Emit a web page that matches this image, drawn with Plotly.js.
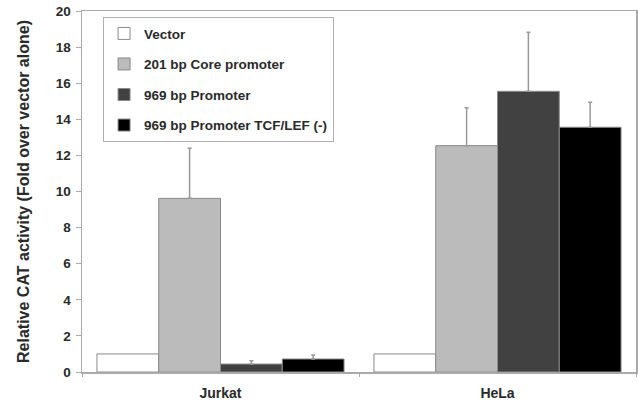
<!DOCTYPE html>
<html>
<head>
<meta charset="utf-8">
<script src="https://cdn.plot.ly/plotly-3.0.1.min.js"></script>
<style>html,body{margin:0;padding:0;background:#fff;}#chart{width:638px;height:404px;}</style>
</head>
<body>
<div id="chart"></div>
<script>
const categories = ["Jurkat", "HeLa"];
const seriesNames = ["Vector", "201 bp Core promoter", "969 bp Promoter", "969 bp Promoter TCF/LEF (-)"];
const vectorVals = [1.0, 1.0];
const coreVals = [9.62, 12.54];
const promVals = [0.44, 15.55];
const tcfVals = [0.72, 13.56];
const vectorErr = [0, 0];
const coreErr = [2.77, 2.1];
const promErr = [0.19, 3.27];
const tcfErr = [0.22, 1.38];
const yTicks = [0, 2, 4, 6, 8, 10, 12, 14, 16, 18, 20];

const colors = ["#ffffff", "#bbbbbb", "#414141", "#000000"];
const vals = [vectorVals, coreVals, promVals, tcfVals];
const errs = [vectorErr, coreErr, promErr, tcfErr];
const FONT = "Liberation Sans, Arial, sans-serif";

const data = seriesNames.map((n, i) => ({
  type: "bar",
  name: n,
  x: categories,
  y: vals[i],
  legendgroup: "g" + i,
  marker: {color: colors[i], line: {color: "#8a8a8a", width: 1}},
  error_y: i === 0 ? {visible: false} : {type: "data", symmetric: false, array: errs[i], arrayminus: [0, 0], color: "#999999", thickness: 1.5, width: 2}
}));

const layout = {
  width: 638, height: 404,
  margin: {l: 82, r: 2, t: 11, b: 32},
  paper_bgcolor: "#ffffff", plot_bgcolor: "#ffffff",
  barmode: "group", bargap: 0.108, bargroupgap: 0,
  font: {family: FONT, color: "#2a2a2a", size: 13},
  xaxis: {
    showline: true, linecolor: "#aaaaaa", linewidth: 1.5, mirror: true,
    ticks: "outside", tickson: "boundaries", ticklen: 3, tickcolor: "#aaaaaa",
    ticklabelstandoff: 8,
    tickfont: {size: 14, color: "#2a2a2a", family: FONT, weight: "bold"},
    showgrid: false
  },
  yaxis: {
    range: [0, 20], tickvals: yTicks, ticktext: yTicks.map(String),
    showline: true, linecolor: "#aaaaaa", linewidth: 1.5, mirror: true,
    ticks: "outside", ticklen: 5, tickcolor: "#aaaaaa",
    ticklabelstandoff: 2,
    tickfont: {size: 13.5, color: "#2a2a2a", weight: "bold"},
    showgrid: false, zeroline: false,
    title: {text: "Relative CAT activity (Fold over vector alone)", font: {size: 16, color: "#2a2a2a", weight: "bold"}, standoff: 22}
  },
  legend: {
    x: 0.038, y: 0.983, xanchor: "left", yanchor: "top",
    bordercolor: "#b0b0b0", borderwidth: 1, bgcolor: "#ffffff",
    traceorder: "grouped", tracegroupgap: 10,
    font: {size: 13.5, color: "#2a2a2a", weight: "bold"},
    itemwidth: 30
  },
  showlegend: true
};

Plotly.newPlot("chart", data, layout, {displayModeBar: false, staticPlot: true});
</script>
</body>
</html>
